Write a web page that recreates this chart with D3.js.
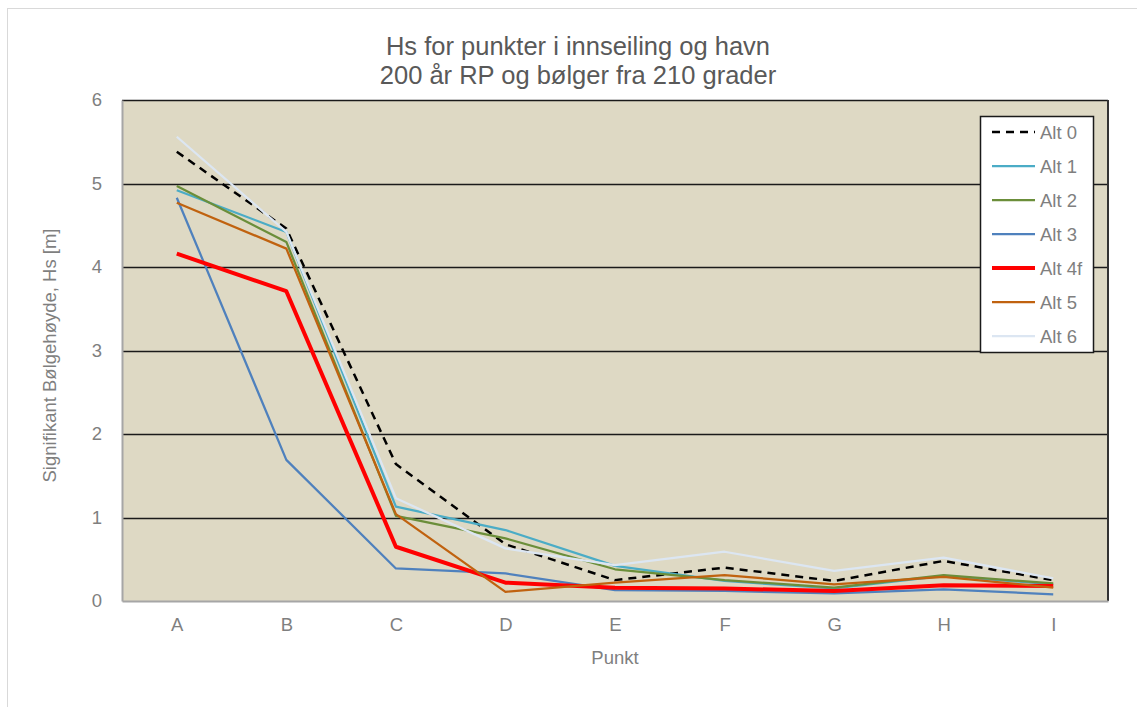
<!DOCTYPE html>
<html>
<head>
<meta charset="utf-8">
<script src="https://cdn.jsdelivr.net/npm/d3@7"></script>
<style>
  html, body { margin: 0; padding: 0; background: #ffffff; }
  svg { display: block; font-family: "Liberation Sans", Arial, sans-serif; }
</style>
</head>
<body>
<svg id="chart" width="1137" height="707"></svg>
<script>
// Measuring points along the approach and harbour
const points = ["A", "B", "C", "D", "E", "F", "G", "H", "I"];
const yTicks = [0, 1, 2, 3, 4, 5, 6];

// Significant wave height Hs [m] per alternative
const alt0  = [5.38, 4.46, 1.64, 0.68, 0.25, 0.40, 0.24, 0.48, 0.25];
const alt1  = [4.92, 4.42, 1.13, 0.85, 0.42, 0.24, 0.15, 0.30, 0.20];
const alt2  = [4.97, 4.30, 1.02, 0.75, 0.38, 0.25, 0.16, 0.31, 0.21];
const alt3  = [4.83, 1.69, 0.39, 0.33, 0.13, 0.12, 0.09, 0.14, 0.08];
const alt4f = [4.16, 3.71, 0.65, 0.22, 0.16, 0.15, 0.12, 0.19, 0.18];
const alt5  = [4.77, 4.22, 1.04, 0.11, 0.22, 0.31, 0.20, 0.29, 0.16];
const alt6  = [5.56, 4.42, 1.23, 0.63, 0.43, 0.59, 0.36, 0.52, 0.27];

const seriesNames = ["Alt 0", "Alt 1", "Alt 2", "Alt 3", "Alt 4f", "Alt 5", "Alt 6"];
const seriesValues = [alt0, alt1, alt2, alt3, alt4f, alt5, alt6];
const seriesStyle = [
  { color: "#000000", width: 2.5, dash: "8,6" },
  { color: "#4BACC6", width: 2.25, dash: null },
  { color: "#6B8E3A", width: 2.25, dash: null },
  { color: "#4F81BD", width: 2.25, dash: null },
  { color: "#FF0000", width: 4, dash: null },
  { color: "#C0620F", width: 2.25, dash: null },
  { color: "#DCE6F2", width: 2.25, dash: null }
];

const svg = d3.select("#chart");
const W = 1137, H = 707;
const plot = { left: 122, right: 1108, top: 100, bottom: 601 };
const labelSize = 18.5;

// Outer chart frame
svg.append("rect")
  .attr("x", 7.5).attr("y", 8.5)
  .attr("width", W + 20).attr("height", H + 20)
  .attr("fill", "#ffffff").attr("stroke", "#d9d9d9").attr("stroke-width", 1);

const x = d3.scalePoint().domain(points)
  .range([plot.left, plot.right]).padding(0.5);
const y = d3.scaleLinear().domain([0, 6]).range([plot.bottom, plot.top]);

// Plot area background
svg.append("rect")
  .attr("x", plot.left).attr("y", plot.top)
  .attr("width", plot.right - plot.left).attr("height", plot.bottom - plot.top)
  .attr("fill", "#DED9C4");

// Horizontal gridlines
svg.append("g")
  .selectAll("line")
  .data(yTicks.filter(d => d > 0))
  .join("line")
  .attr("x1", plot.left).attr("x2", plot.right)
  .attr("y1", d => Math.round(y(d)) + 0.5).attr("y2", d => Math.round(y(d)) + 0.5)
  .attr("stroke", "#1a1a1a").attr("stroke-width", 1.5);

// Right border of plot area
svg.append("line")
  .attr("x1", plot.right).attr("x2", plot.right)
  .attr("y1", plot.top).attr("y2", plot.bottom)
  .attr("stroke", "#333333").attr("stroke-width", 2);

// Y axis
const yAxis = svg.append("g")
  .attr("transform", `translate(${plot.left},0)`)
  .call(d3.axisLeft(y).tickValues(yTicks).tickSize(0).tickPadding(20).tickFormat(d3.format("d")));
yAxis.select(".domain").attr("stroke", "#a6a6a6").attr("stroke-width", 2);
yAxis.selectAll("text")
  .attr("fill", "#7f7f7f").attr("font-size", labelSize)
  .attr("font-family", "Liberation Sans, Arial, sans-serif");

// X axis
const xAxis = svg.append("g")
  .attr("transform", `translate(0,${plot.bottom})`)
  .call(d3.axisBottom(x).tickSize(0).tickPadding(17));
xAxis.select(".domain").attr("stroke", "#a6a6a6").attr("stroke-width", 2);
xAxis.selectAll("text")
  .attr("fill", "#7f7f7f").attr("font-size", labelSize)
  .attr("font-family", "Liberation Sans, Arial, sans-serif");

// Series lines
const line = d3.line()
  .x((d, i) => x(points[i]))
  .y(d => y(d));

svg.append("g")
  .selectAll("path")
  .data(seriesValues)
  .join("path")
  .attr("d", d => line(d))
  .attr("fill", "none")
  .attr("stroke", (d, i) => seriesStyle[i].color)
  .attr("stroke-width", (d, i) => seriesStyle[i].width)
  .attr("stroke-dasharray", (d, i) => seriesStyle[i].dash)
  .attr("stroke-linejoin", "round");

// Title
const title = svg.append("text")
  .attr("x", 578).attr("text-anchor", "middle")
  .attr("fill", "#595959").attr("font-size", 25.5);
title.append("tspan").attr("x", 578).attr("y", 55).text("Hs for punkter i innseiling og havn");
title.append("tspan").attr("x", 578).attr("y", 84).text("200 år RP og bølger fra 210 grader");

// Axis titles
svg.append("text")
  .attr("x", x("E")).attr("y", 664)
  .attr("text-anchor", "middle")
  .attr("fill", "#7f7f7f").attr("font-size", labelSize)
  .text("Punkt");

svg.append("text")
  .attr("transform", `translate(56,${(plot.top + plot.bottom) / 2 + 5}) rotate(-90)`)
  .attr("text-anchor", "middle")
  .attr("fill", "#7f7f7f").attr("font-size", labelSize)
  .text("Signifikant Bølgehøyde, Hs [m]");

// Legend
const legend = { x: 980, y: 116, w: 113, h: 236, rowH: 34 };
const lg = svg.append("g");
lg.append("rect")
  .attr("x", legend.x + 0.5).attr("y", legend.y + 0.5)
  .attr("width", legend.w).attr("height", legend.h)
  .attr("fill", "#ffffff").attr("stroke", "#1a1a1a").attr("stroke-width", 1.5);

const rows = lg.selectAll("g.row")
  .data(seriesNames)
  .join("g")
  .attr("class", "row")
  .attr("transform", (d, i) => `translate(${legend.x},${legend.y + 16 + i * legend.rowH})`);

rows.append("line")
  .attr("x1", 12).attr("x2", 55)
  .attr("y1", 0).attr("y2", 0)
  .attr("stroke", (d, i) => seriesStyle[i].color)
  .attr("stroke-width", (d, i) => seriesStyle[i].width)
  .attr("stroke-dasharray", (d, i) => seriesStyle[i].dash);

rows.append("text")
  .attr("x", 60).attr("y", 7)
  .attr("fill", "#7f7f7f").attr("font-size", labelSize)
  .text(d => d);
</script>
</body>
</html>
